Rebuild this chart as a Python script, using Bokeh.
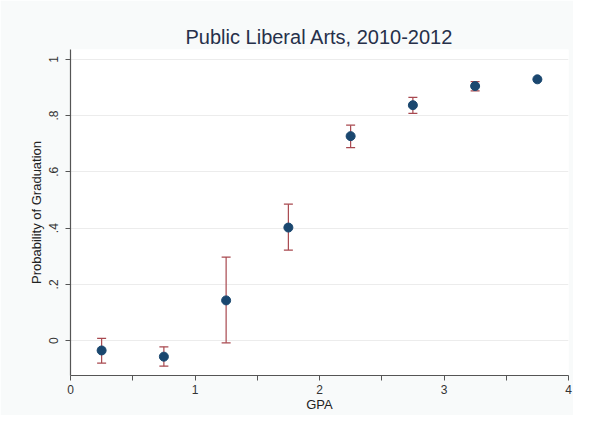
from bokeh.plotting import figure
from bokeh.models import ColumnDataSource, Whisker, Range1d, FixedTicker
from bokeh.embed import file_html
from bokeh.resources import INLINE

# Data
gpa = [0.25, 0.75, 1.25, 1.75, 2.25, 2.75, 3.25, 3.75]
prob = [-0.035, -0.057, 0.143, 0.402, 0.727, 0.837, 0.905, 0.929]
ci_low = [-0.080, -0.091, -0.008, 0.322, 0.686, 0.808, 0.888, None]
ci_high = [0.008, -0.022, 0.297, 0.485, 0.766, 0.865, 0.921, None]

x_ticks = [0, 0.5, 1, 1.5, 2, 2.5, 3, 3.5, 4]
x_labels = {0: "0", 0.5: "", 1: "1", 1.5: "", 2: "2", 2.5: "", 3: "3", 3.5: "", 4: "4"}
y_ticks = [0, 0.2, 0.4, 0.6, 0.8, 1.0]
y_labels = {0: "0", 0.2: ".2", 0.4: ".4", 0.6: ".6", 0.8: ".8", 1: "1"}

FONT = "Liberation Sans"
NAVY = "#1a476f"
MAROON = "#a8484f"

p = figure(width=573, height=415, output_backend="svg", toolbar_location=None,
           x_range=Range1d(0, 4), y_range=Range1d(-0.124, 1.035),
           title="Public Liberal Arts, 2010-2012",
           min_border_left=70, min_border_right=5, min_border_top=49,
           min_border_bottom=40)

p.background_fill_color = "white"
p.border_fill_color = "#f8fafa"
p.outline_line_color = None

p.title.align = "center"
p.title.text_font = FONT
p.title.text_font_size = "20px"
p.title.text_font_style = "normal"
p.title.text_color = "#26304a"
p.title.standoff = 3

# error bars
eb_x = [g for g, lo in zip(gpa, ci_low) if lo is not None]
eb_lo = [lo for lo in ci_low if lo is not None]
eb_hi = [hi for hi in ci_high if hi is not None]
src_eb = ColumnDataSource(dict(x=eb_x, lo=eb_lo, hi=eb_hi))
w = Whisker(base="x", lower="lo", upper="hi", source=src_eb,
            line_color=MAROON, line_width=1.2)
w.upper_head.size = 9
w.lower_head.size = 9
w.upper_head.line_color = MAROON
w.lower_head.line_color = MAROON
w.upper_head.line_width = 1.2
w.lower_head.line_width = 1.2
p.add_layout(w)

src = ColumnDataSource(dict(x=gpa, y=prob))
p.scatter("x", "y", source=src, size=9, fill_color=NAVY, line_color=NAVY)

# axes
p.xaxis.ticker = FixedTicker(ticks=x_ticks)
p.xaxis.major_label_overrides = x_labels
p.yaxis.ticker = FixedTicker(ticks=y_ticks)
p.yaxis.major_label_overrides = y_labels
p.yaxis.major_label_orientation = "vertical"

for ax in (p.xaxis, p.yaxis):
    ax.axis_line_color = "#555555"
    ax.axis_line_width = 1.2
    ax.major_tick_line_color = "#555555"
    ax.major_tick_out = 5
    ax.major_tick_in = 0
    ax.minor_tick_line_color = None
    ax.major_label_text_font = FONT
    ax.major_label_text_font_size = "12px"
    ax.major_label_text_color = "#333333"
    ax.axis_label_text_font = FONT
    ax.axis_label_text_font_size = "13px"
    ax.axis_label_text_font_style = "normal"
    ax.axis_label_text_color = "#222222"

p.xaxis.major_label_standoff = 4
p.xaxis.axis_label_standoff = 0
p.yaxis.major_label_standoff = 7
p.yaxis.axis_label_standoff = 3

p.xaxis.axis_label = "GPA"
p.yaxis.axis_label = "Probability of Graduation"

p.xgrid.grid_line_color = None
p.ygrid.grid_line_color = "#ececec"
p.ygrid.grid_line_width = 1

open("out.html", "w").write(file_html(p, INLINE))
